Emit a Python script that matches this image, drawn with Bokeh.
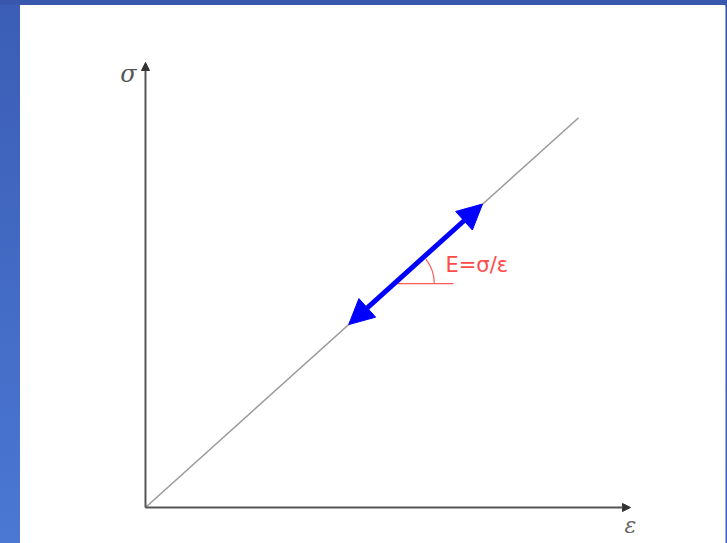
from bokeh.plotting import figure
from bokeh.models import Range1d, Arrow, NormalHead, Label
from bokeh.embed import file_html
from bokeh.resources import INLINE

# ---- data (schematic stress-strain diagram, normalised units) ----
axis_strain = [0.0, 1.0]          # horizontal axis: strain  (ε)
axis_stress = [0.0, 1.0]          # vertical axis: stress    (σ)
elastic_strain = [0.0, 0.893]     # linear elastic line
elastic_stress = [0.0, 0.876]
load_strain = [0.419, 0.695]      # loading / unloading double arrow
load_stress = [0.411, 0.682]
angle_ref_strain = [0.513, 0.635]  # horizontal reference for slope angle
angle_ref_stress = [0.503, 0.503]
x_label = "ε"
y_label = "σ"
modulus_label = "E=σ/ε"

p = figure(width=727, height=543, output_backend="svg", toolbar_location=None,
           x_range=Range1d(-0.2577, 1.1959), y_range=Range1d(-0.0809, 1.1281),
           min_border_left=20, min_border_right=2, min_border_top=5, min_border_bottom=0)
p.axis.visible = False
p.grid.visible = False
p.outline_line_color = None
p.background_fill_color = "white"
p.border_fill_alpha = 0

# elastic line
p.line(elastic_strain, elastic_stress, line_color="#9a9a9a", line_width=1.5)

# axes with arrow heads
p.add_layout(Arrow(end=NormalHead(size=8, fill_color="#333333", line_color="#333333"),
                   x_start=axis_strain[0], y_start=axis_stress[0],
                   x_end=axis_strain[0], y_end=axis_stress[1],
                   line_color="#555555", line_width=2))
p.add_layout(Arrow(end=NormalHead(size=8, fill_color="#333333", line_color="#333333"),
                   x_start=axis_strain[0], y_start=axis_stress[0],
                   x_end=axis_strain[1], y_end=axis_stress[0],
                   line_color="#555555", line_width=2))

# blue double arrow
p.add_layout(Arrow(start=NormalHead(size=25, fill_color="#0000ff", line_color="#0000ff"),
                   end=NormalHead(size=25, fill_color="#0000ff", line_color="#0000ff"),
                   x_start=load_strain[0], y_start=load_stress[0],
                   x_end=load_strain[1], y_end=load_stress[1],
                   line_color="#0000ff", line_width=5))

# slope angle marker
p.line(angle_ref_strain, angle_ref_stress, line_color="#ff5a5a", line_width=1.2)
p.arc(x=[angle_ref_strain[0]], y=[angle_ref_stress[0]], radius=40, radius_units="screen",
      start_angle=0.0, end_angle=0.66, line_color="#ff5a5a", line_width=1.2)

# labels
p.add_layout(Label(x=0.6186, y=0.544, text=modulus_label, text_color="#ff4a4a",
                   text_font="DejaVu Sans", text_font_size="21px",
                   text_baseline="middle", text_align="left"))
p.add_layout(Label(x=-0.035, y=0.975, text=y_label, text_color="#555555",
                   text_font="DejaVu Serif", text_font_style="italic", text_font_size="24px",
                   text_baseline="middle", text_align="center"))
p.add_layout(Label(x=1.0, y=-0.040, text=x_label, text_color="#666666",
                   text_font="DejaVu Serif", text_font_style="italic", text_font_size="22px",
                   text_baseline="middle", text_align="center"))

html = file_html(p, INLINE)
style = ("<style>html,body{background:"
         "linear-gradient(#3858ad,#3858ad) 0 0/100% 5px no-repeat,"
         "linear-gradient(#2f50a8,#3a62c0) 725px 0/2px 543px no-repeat,"
         "linear-gradient(#3b5db5,#4a78d3) 0 0/20px 543px no-repeat,"
         "#ffffff;}</style>")
html = html.replace("<head>", "<head>\n" + style, 1)
open("out.html", "w").write(html)
